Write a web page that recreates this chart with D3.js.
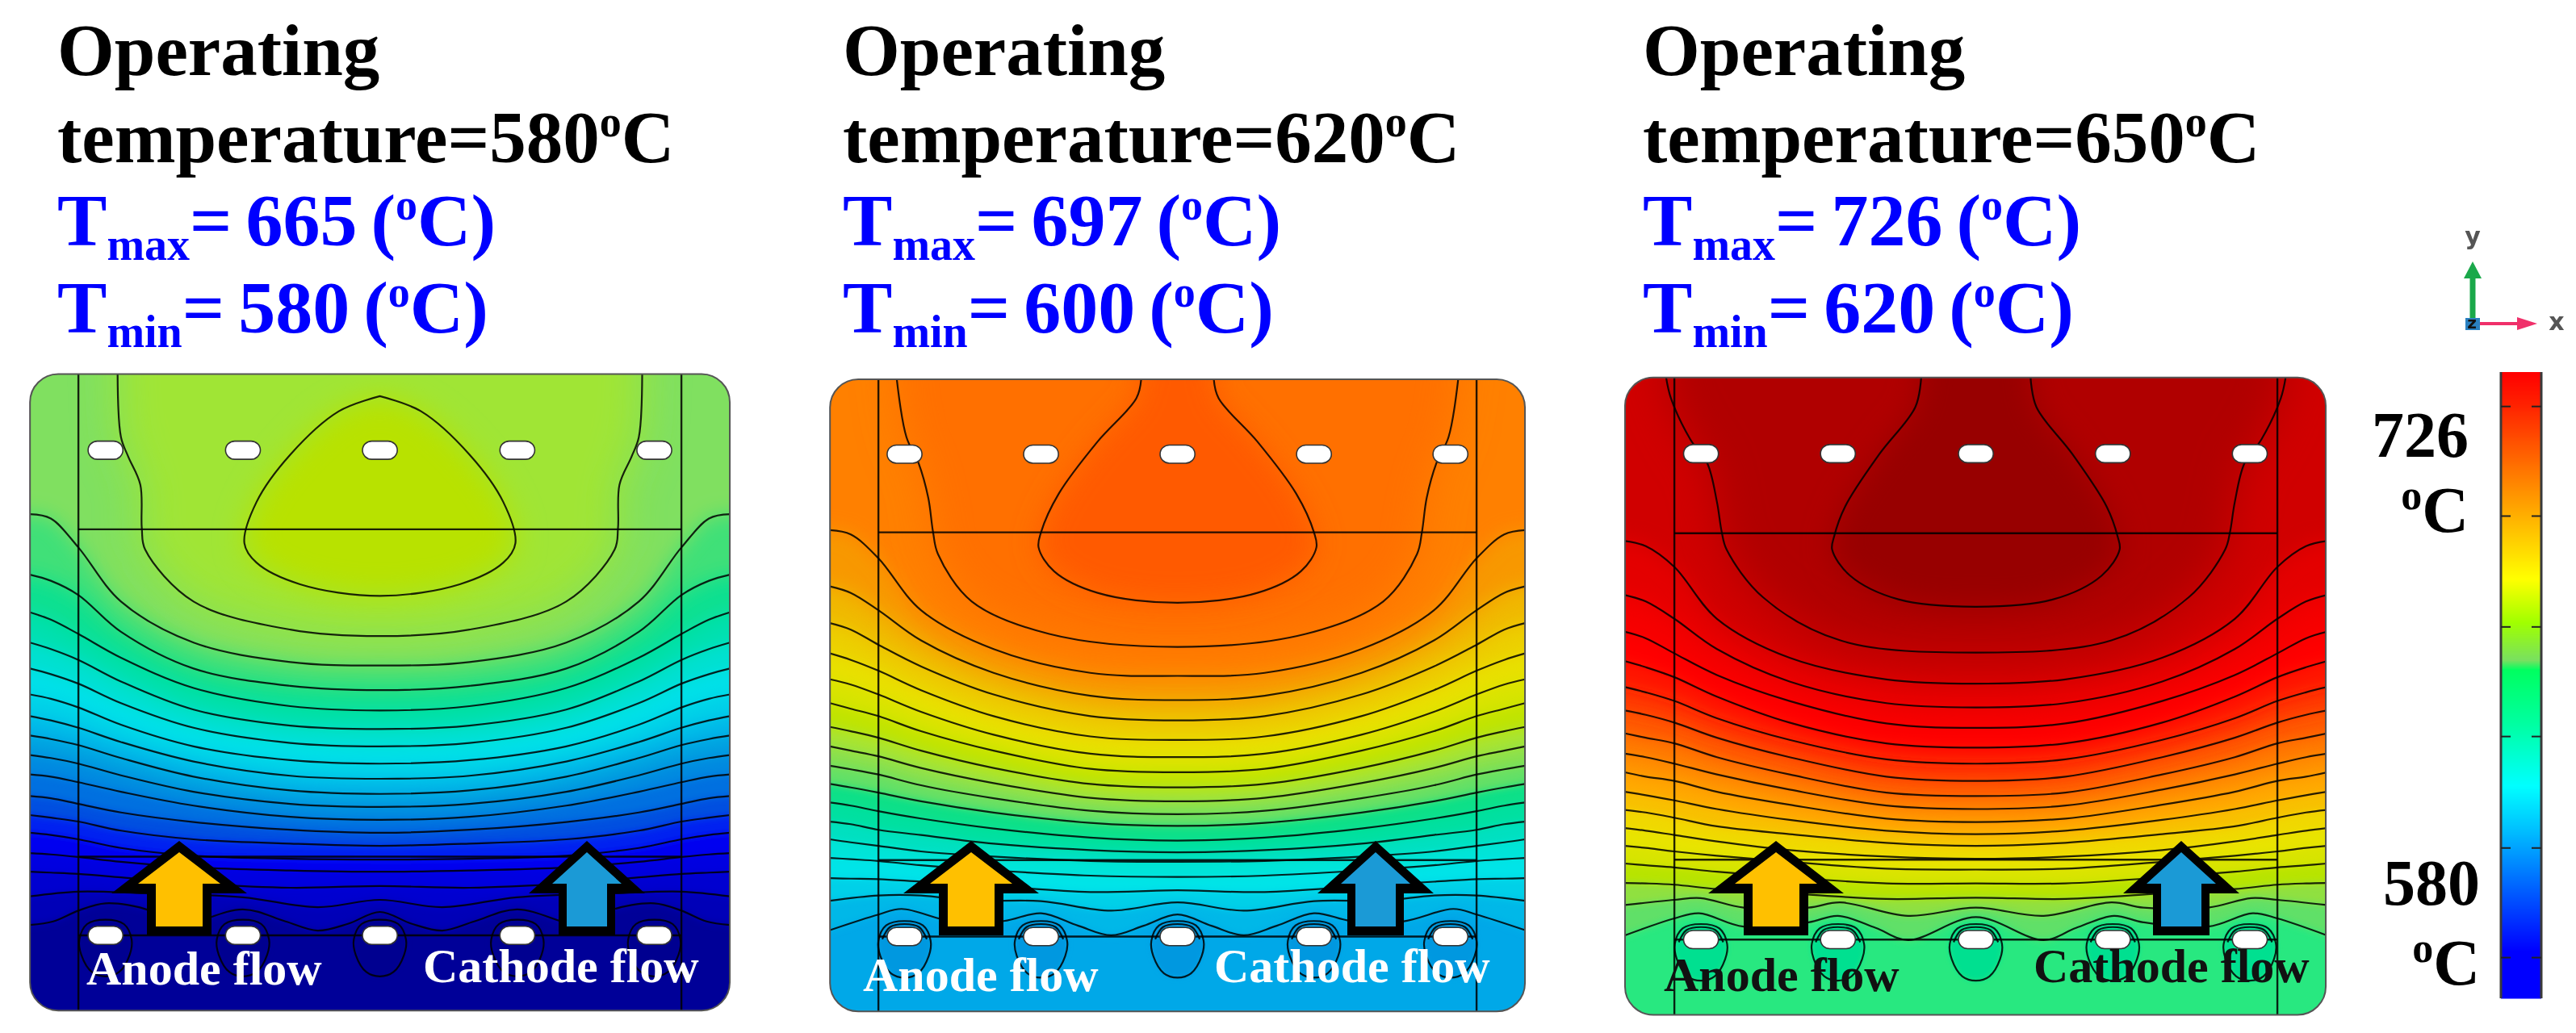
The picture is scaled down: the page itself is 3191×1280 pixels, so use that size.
<!DOCTYPE html>
<html><head><meta charset="utf-8">
<script src="https://cdn.jsdelivr.net/npm/d3@7"></script>
<style>html,body{margin:0;background:#fff}svg{display:block;filter:blur(.6px)}text{font-family:"Liberation Serif",serif;font-weight:bold}</style>
</head><body><div id="c"></div>
<script>
// ---------- values ----------
const operatingTemps=[580,620,650];
const tmaxValues=[665,697,726];
const tminValues=[580,600,620];
const headerX=[71,1044,2035];
const cropX=[0,1000,1980];                 // left edge of the reading frame of each panel
const panelLeft=[62,47,55], panelRight=[1508,1483,1503], panelTop=[44,56,52], panelBottom=[1516,1518,1526];
const vLineX=[162,147,157];
const midLineY=[403,410,412], lowLineY=[1160,1168,1167], holeLineY=[1342,1345,1352];
const topHoleY=[220,229,228];
const holeX=[[218,502,785,1069,1352],[201,483,765,1047,1329],[212,495,780,1063,1346]];

const stations=[
 [62,105,162,250,400,600,785],
 [47,90,147,235,385,585,765],
 [55,98,157,245,395,595,780]];
const rowsP1=[
 [368,378,445,570,665,710,718],[508,522,555,640,725,765,775],[595,612,645,700,770,812,822],
 [665,680,705,755,820,857,865],[725,738,760,805,862,897,905],[785,795,815,855,905,937,945],
 [835,845,862,895,940,973,980],[880,888,902,932,975,1007,1015],[925,932,945,972,1010,1038,1045],
 [970,975,988,1010,1042,1068,1075],[1020,1025,1038,1058,1080,1098,1105],[1064,1070,1079,1100,1120,1130,1135],
 [1105,1110,1120,1140,1158,1165,1167],[1152,1155,1161,1172,1185,1192,1195],[1195,1197,1200,1208,1222,1232,1228]];
const rowsP2=[
 [405,415,470,590,680,735,742],[535,550,590,660,735,788,798],[620,635,670,720,785,835,845],
 [690,705,730,775,835,882,890],[750,762,785,825,878,922,930],[805,818,835,870,915,957,965],
 [860,870,885,915,955,992,1000],[905,915,928,955,990,1024,1032],[950,958,970,995,1025,1054,1062],
 [992,1000,1012,1032,1058,1082,1089],[1035,1042,1055,1072,1095,1116,1123],[1079,1085,1098,1110,1130,1145,1150],
 [1120,1127,1135,1148,1160,1170,1172],[1163,1166,1170,1180,1192,1204,1207],[1210,1211,1212,1218,1228,1242,1238]];
const rowsP3=[
 [430,442,490,610,700,750,760],[555,570,610,680,755,805,815],[640,655,690,740,800,852,862],
 [708,722,745,790,850,898,908],[768,780,800,840,890,935,945],[822,832,850,885,930,975,985],
 [875,885,898,930,970,1012,1020],[922,930,945,970,1005,1042,1050],[965,975,985,1010,1040,1072,1080],
 [1010,1018,1030,1050,1075,1100,1108],[1052,1058,1070,1090,1108,1128,1135],[1094,1100,1110,1125,1145,1160,1165],
 [1135,1140,1148,1158,1172,1188,1190],[1176,1180,1185,1195,1208,1222,1222],[1221,1222,1225,1235,1245,1258,1255]];
const wavesP1=[
 [[62,1252],[162,1241],[300,1245],[502,1254],[656,1277],[785,1260]],
 [[62,1318],[110,1310],[162,1285],[218,1268],[310,1285],[360,1320],[502,1282],[590,1310],[656,1331],[720,1315],[785,1288]]];
const wavesP2=[
 [[47,1262],[147,1250],[235,1250],[340,1262],[483,1263],[628,1285],[765,1266]],
 [[47,1330],[147,1294],[195,1281],[300,1310],[406,1309],[483,1291],[560,1320],[628,1342],[695,1320],[765,1294]]];
const wavesP3=[
 [[55,1272],[157,1260],[211,1256],[300,1278],[434,1278],[500,1266],[640,1297],[780,1278]],
 [[55,1342],[157,1303],[208,1291],[300,1322],[434,1312],[495,1297],[573,1325],[640,1353],[780,1300]]];
const sideLobes=[
 [[243,44],[250,190],[265,235],[290,300],[293,400],[300,450],[400,570],[600,635],[785,650]],
 [[185,56],[205,190],[230,250],[250,330],[260,410],[270,460],[340,570],[500,645],[765,675]],
 [[140,52],[150,100],[190,195],[225,250],[245,340],[255,410],[265,450],[340,560],[500,660],[780,688]]];
const coreLobes=[
 [[785,95],[700,130],[600,230],[530,340],[505,435],[530,480],[620,530],[785,557]],
 [[690,56],[680,100],[600,200],[520,320],[483,410],[478,445],[510,500],[600,550],[765,573]],
 [[667,52],[655,120],[580,230],[510,350],[487,420],[483,450],[520,510],[620,565],[780,582]]];
const bandColorsP1=['#80e060','#40e078','#10e090','#00e0b0','#00e0d0','#00e0e8','#00d0e8','#00b8e8','#00a0e0','#0088e0','#0070e0','#0050e0','#0020f0','#0000f0','#0000e0','#0000d0','#0000b8'];
const bandColorsP2=['#ff8000','#f89800','#f0b800','#ecd000','#e8e000','#d8e400','#c0e400','#a8e430','#88e050','#60e068','#10e088','#00e0a0','#00e0c0','#00e4d8','#00e4e8','#00d0e8','#00b8e8'];
const bandColorsP3=['#d00000','#e40000','#f40000','#ff0000','#ff1800','#ff3800','#ff5800','#ff7800','#ff9000','#ffa800','#f8c000','#f0d800','#e8e400','#d8e400','#b8e400','#90e040','#60e068'];
const baseColors=['#000098','#00a8e8','#28e880'];
const sideColors=['#a0e535','#ff7000','#b00000'];
const coreColors=['#b8e200','#ff5a00','#980000'];
const loopColors=['#000090','#0098e0','#00e090'];
const holeLoop=[[0,-36],[-38,-26],[-54,10],[-50,45],[-28,85],[0,95],[28,85],[50,45],[54,10],[38,-26]];
const holeArc=[[-46,6],[-30,-22],[0,-29],[30,-22],[46,6]];
const anodeTextX=[107,1069,2061], anodeBase=[1220,1228,1228];
const cathodeTextX=[524,1504,2519], cathodeBase=[1217,1217,1217];
const flowTextFill=['#fff','#fff','#111'];
const arrowAnodeX=[222,1203,2200], arrowCathodeX=[727,1704,2702];
const arrowColors=['#ffc000','#1b9ad6'];
const barStopPos=[0,.05,.13,.22,.33,.40,.46,.475,.56,.66,.73,.825,.925,1];
const barStopColors=['#ff0000','#ff2000','#ff6000','#ffa800','#ffff00','#a0ff00','#78e060','#00ff60','#00ffa0','#00ffff','#00c0ff','#0060ff','#0000ff','#0000ff'];
const barTickFrac=[.055,.23,.407,.582,.76,.935];
const barLabels=['726','580'];

// ---------- drawing ----------
const svg=d3.select('#c').append('svg').attr('width',3191).attr('height',1280);
const defs=svg.append('defs');
const sy=d3.scaleLinear().domain([0,1568]).range([440,1280]);
[3,5,8,12,18,26].forEach(s=>{
  defs.append('filter').attr('id','b'+s).attr('filterUnits','userSpaceOnUse')
    .attr('x',-200).attr('y',0).attr('width',3600).attr('height',1600)
    .append('feGaussianBlur').attr('stdDeviation',s);
});
const allRows=[rowsP1,rowsP2,rowsP3], allWaves=[wavesP1,wavesP2,wavesP3], allBands=[bandColorsP1,bandColorsP2,bandColorsP3];

function header(i){
  const x=headerX[i], g=svg.append('g');
  g.append('text').attr('x',x).attr('y',93).attr('font-size',91).text('Operating');
  const t=g.append('text').attr('x',x).attr('y',201).attr('font-size',91);
  t.append('tspan').text('temperature='+operatingTemps[i]);
  t.append('tspan').attr('font-size',54).attr('dy',-32).text('o');
  t.append('tspan').attr('dy',32).text('C');
  [['max',tmaxValues[i],304],['min',tminValues[i],412]].forEach(([s,v,y])=>{
    const b=g.append('text').attr('x',x).attr('y',y).attr('font-size',92).attr('fill','#0000ff').attr('word-spacing',-6);
    b.append('tspan').text('T');
    b.append('tspan').attr('font-size',56).attr('dy',18).text(s);
    b.append('tspan').attr('dy',-18).text('= '+v+' (');
    b.append('tspan').attr('font-size',54).attr('dy',-32).text('o');
    b.append('tspan').attr('dy',32).text('C)');
  });
}

function panel(i){
  const sx=d3.scaleLinear().domain([0,1568]).range([cropX[i],cropX[i]+940]);
  const L=panelLeft[i],R=panelRight[i],T=panelTop[i],B=panelBottom[i];
  const cx=holeX[i][2], mirror=p=>[2*cx-p[0],p[1]];
  const both=h=>h.concat(h.slice(0,-1).reverse().map(mirror));
  const line=d3.line().x(d=>sx(d[0])).y(d=>sy(d[1])).curve(d3.curveCatmullRom.alpha(.5));
  const closed=d3.line().x(d=>sx(d[0])).y(d=>sy(d[1])).curve(d3.curveCatmullRomClosed.alpha(.5));
  const id='clip'+i;
  defs.append('clipPath').attr('id',id).append('rect')
    .attr('x',sx(L)).attr('y',sy(T)).attr('width',sx(R)-sx(L)).attr('height',sy(B)-sy(T)).attr('rx',35);
  const g=svg.append('g');
  const f=g.append('g').attr('clip-path','url(#'+id+')');
  f.append('rect').attr('x',sx(L)).attr('y',sy(T)).attr('width',sx(R)-sx(L)).attr('height',sy(B)-sy(T)).attr('fill',baseColors[i]);

  const rows=allRows[i].map(r=>r.map((y,k)=>[stations[i][k],y]));
  const lines=rows.concat(allWaves[i]).map(both);
  const colors=allBands[i];
  const extX0=sx(L)-150, extX1=sx(R)+150, extY=sy(T)-200;
  const blurFor=k=>k>=9?5:(k>=3?8:12);
  // warm regions, painted from the cold bottom upwards
  for(let k=lines.length-1;k>=0;k--){
    const p=lines[k];
    const d='M'+extX0+','+sy(p[0][1])+line(p).replace(/^M/,'L')+'L'+extX1+','+sy(p[p.length-1][1])+'L'+extX1+','+extY+'L'+extX0+','+extY+'Z';
    f.append('path').attr('d',d).attr('fill',colors[k]).attr('filter','url(#b'+blurFor(k)+')');
  }
  const sideP=both(sideLobes[i]);
  f.append('path').attr('d',line(sideP)+'L'+sx(sideP[sideP.length-1][0])+','+extY+'L'+sx(sideP[0][0])+','+extY+'Z')
    .attr('fill',sideColors[i]).attr('filter','url(#b26)');
  const coreP=both(coreLobes[i]);
  f.append('path').attr('d',line(coreP)+(i==0?'Z':'L'+sx(coreP[coreP.length-1][0])+','+extY+'L'+sx(coreP[0][0])+','+extY+'Z'))
    .attr('fill',coreColors[i]).attr('filter','url(#b18)');
  // lobes around the lower holes
  const hy=holeLineY[i];
  holeX[i].forEach(hx=>{
    f.append('path').attr('d',closed(holeLoop.map(o=>[hx+o[0],hy+o[1]]))).attr('fill',loopColors[i]).attr('filter','url(#b3)');
  });
  // contour strokes
  const ink=f.append('g').attr('fill','none').attr('stroke','#000').attr('stroke-opacity',.85).attr('stroke-width',2.2);
  lines.forEach(p=>ink.append('path').attr('d',line(p)));
  ink.append('path').attr('d',line(sideP));
  ink.append('path').attr('d',line(coreP)+(i==0?'Z':''));
  holeX[i].forEach(hx=>{
    ink.append('path').attr('d',closed(holeLoop.map(o=>[hx+o[0],hy+o[1]])));
    if(i>0) ink.append('path').attr('d',line(holeArc.map(o=>[hx+o[0],hy+o[1]])));
  });
  // geometry lines
  const geo=f.append('g').attr('stroke','#000').attr('stroke-opacity',.85).attr('stroke-width',2.4);
  const vl=[vLineX[i],2*cx-vLineX[i]];
  vl.forEach(v=>geo.append('line').attr('x1',sx(v)).attr('x2',sx(v)).attr('y1',sy(T)).attr('y2',sy(B)));
  [midLineY[i],lowLineY[i],holeLineY[i]].forEach(y=>geo.append('line').attr('x1',sx(vl[0])).attr('x2',sx(vl[1])).attr('y1',sy(y)).attr('y2',sy(y)));
  // outline
  g.append('rect').attr('x',sx(L)).attr('y',sy(T)).attr('width',sx(R)-sx(L)).attr('height',sy(B)-sy(T)).attr('rx',35)
    .attr('fill','none').attr('stroke','#555').attr('stroke-width',2);
  // holes
  [topHoleY[i],hy].forEach(y=>holeX[i].forEach(hx=>{
    g.append('rect').attr('x',sx(hx-36)).attr('y',sy(y-21)).attr('width',sx(72)-sx(0)).attr('height',sy(42)-sy(0))
      .attr('rx',11.5).attr('fill','#fff').attr('stroke','#333').attr('stroke-width',1.6);
  }));
  // arrows
  const arrow=(x,o,h,so,si,c)=>{
    const top=1042,base=1107,bot=1159,ti=1056,bi=1095,bb=1148;
    g.append('polygon').attr('fill','#000').attr('points',[[x,top],[x+o,base],[x+so,base],[x+so,bot],[x-so,bot],[x-so,base],[x-o,base]].join(' '));
    g.append('polygon').attr('fill',c).attr('points',[[x,ti],[x+h,bi],[x+si,bi],[x+si,bb],[x-si,bb],[x-si,bi],[x-h,bi]].join(' '));
  };
  arrow(arrowAnodeX[i],84,51,40,29,arrowColors[0]);
  arrow(arrowCathodeX[i],72,43,35,25,arrowColors[1]);
  // flow labels
  g.append('text').attr('x',anodeTextX[i]).attr('y',anodeBase[i]).attr('font-size',60).attr('fill',flowTextFill[i]).text('Anode flow');
  g.append('text').attr('x',cathodeTextX[i]).attr('y',cathodeBase[i]).attr('font-size',60).attr('fill',flowTextFill[i]).text('Cathode flow');
}

function colorbar(){
  const x0=3098,x1=3148,y0=461,y1=1237;
  const pos=d3.scaleLinear().domain([0,1]).range([y0,y1]);
  const col=d3.scaleLinear().domain(barStopPos).range(barStopColors).interpolate(d3.interpolateRgb);
  const g=svg.append('g');
  d3.range(y0,y1).forEach(y=>g.append('rect').attr('x',x0).attr('y',y).attr('width',x1-x0).attr('height',1.5).attr('fill',col(pos.invert(y))));
  g.append('line').attr('x1',x0).attr('x2',x0).attr('y1',y0).attr('y2',y1).attr('stroke','#3a3a3a').attr('stroke-width',3);
  g.append('line').attr('x1',x1).attr('x2',x1).attr('y1',y0).attr('y2',y1).attr('stroke','#3a3a3a').attr('stroke-width',3);
  barTickFrac.forEach(t=>{
    [[x0,x0+12],[x1-12,x1]].forEach(([a,b])=>g.append('line').attr('x1',a).attr('x2',b).attr('y1',pos(t)).attr('y2',pos(t)).attr('stroke','#222').attr('stroke-width',2));
  });
  const lab=(txt,xr,y)=>g.append('text').attr('x',xr).attr('y',y).attr('text-anchor','end').attr('font-size',80).text(txt);
  const deg=(xr,y)=>{const t=g.append('text').attr('x',xr).attr('y',y).attr('text-anchor','end').attr('font-size',80);
    t.append('tspan').attr('font-size',52).attr('dy',-28).text('o');t.append('tspan').attr('dy',28).text('C');};
  lab(barLabels[0],3058,566);deg(3058,659);
  lab(barLabels[1],3072,1121);deg(3072,1220);
  // orientation triad
  const a=svg.append('g');
  a.append('line').attr('x1',3063).attr('x2',3063).attr('y1',396).attr('y2',335).attr('stroke','#1aa84a').attr('stroke-width',7);
  a.append('polygon').attr('points','3063,324 3052,345 3074,345').attr('fill','#1aa84a');
  a.append('line').attr('x1',3066).attr('x2',3125).attr('y1',401).attr('y2',401).attr('stroke','#f0306a').attr('stroke-width',4);
  a.append('polygon').attr('points','3143,401 3118,393 3118,409').attr('fill','#f0306a');
  a.append('rect').attr('x',3054).attr('y',394).attr('width',18).attr('height',15).attr('fill','#2a80c0');
  const sm=(t,x,y,c,s)=>a.append('text').attr('x',x).attr('y',y).attr('text-anchor','middle').attr('font-size',s).attr('fill',c)
     .style('font-family','"DejaVu Sans"').style('font-weight','bold').text(t);
  sm('z',3062,407,'#111',20);sm('y',3063,303,'#555',30);sm('x',3167,409,'#555',30);
}

[0,1,2].forEach(i=>{header(i);panel(i);});
colorbar();
</script></body></html>
